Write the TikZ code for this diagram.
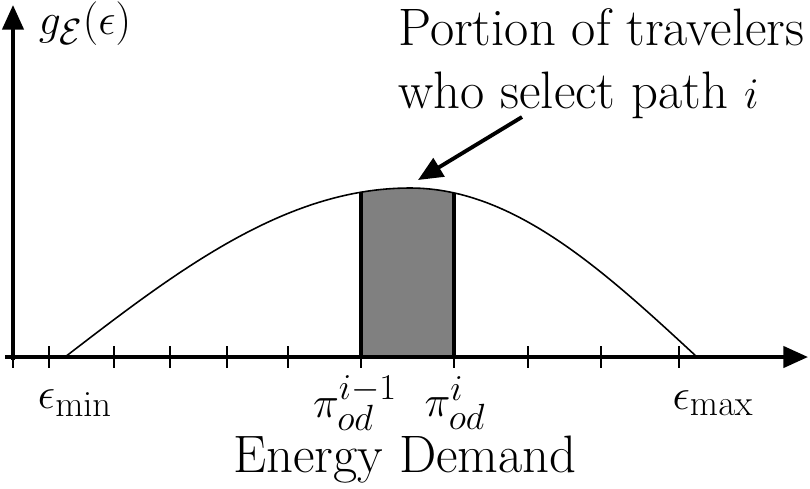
\documentclass[tikz,border=0pt]{standalone}
\usetikzlibrary{arrows.meta}
\begin{document}
\begin{tikzpicture}[x=0.02cm,y=-0.02cm,
  ax/.style={line width=2.2pt,-{Triangle[length=14pt,width=12pt]}},
  lbl/.style={font=\fontsize{30}{36}\selectfont,inner sep=0pt}]
\useasboundingbox (0,0) rectangle (810,488);
\fill[gray] (361,357) -- plot[domain=361:410,samples=20] (\x,{357-169*sin((\x-65)/345*90)}) -- plot[domain=410:454,samples=20] (\x,{357-169*sin((697-\x)/287*90)}) -- (454,357) -- cycle;
\draw[line width=0.9pt] plot[domain=65:410,samples=80] (\x,{357-169*sin((\x-65)/345*90)}) -- plot[domain=410:697,samples=80] (\x,{357-169*sin((697-\x)/287*90)});
\draw[line width=1.8pt] (361,357) -- (361,{357-169*sin((361-65)/345*90)});
\draw[line width=1.8pt] (454,357) -- (454,{357-169*sin((697-454)/287*90)});
\coordinate (ytop) at (13,5);
\coordinate (xend) at (808,357);
\draw[ax] (13,360) -- (ytop);
\draw[ax] (5,357) -- (xend);
\foreach \t in {13,49,114,170,227,288,361,454,528,601,679}
  \draw[line width=1.6pt] (\t,346) -- (\t,368);
\node[lbl] (g) at (85,24) {$g_{\mathcal E}(\epsilon)$};
\node[lbl,align=left,anchor=north west] (p) at (398,8) {Portion of travelers\\who select path $i$};
\coordinate (tip) at (418,180);
\draw[line width=2.2pt,-{Triangle[length=14pt,width=12pt]}] (522,117) -- (tip);
\node[lbl] (emin) at (75,403) {$\epsilon_{\min}$};
\node[lbl] (p1) at (355,403) {$\pi_{od}^{i-1}$};
\node[lbl] (p2) at (455,403) {$\pi_{od}^{i}$};
\node[lbl] (emax) at (713,403) {$\epsilon_{\max}$};
\node[lbl] (ed) at (405,460) {Energy Demand};
\end{tikzpicture}
\end{document}
